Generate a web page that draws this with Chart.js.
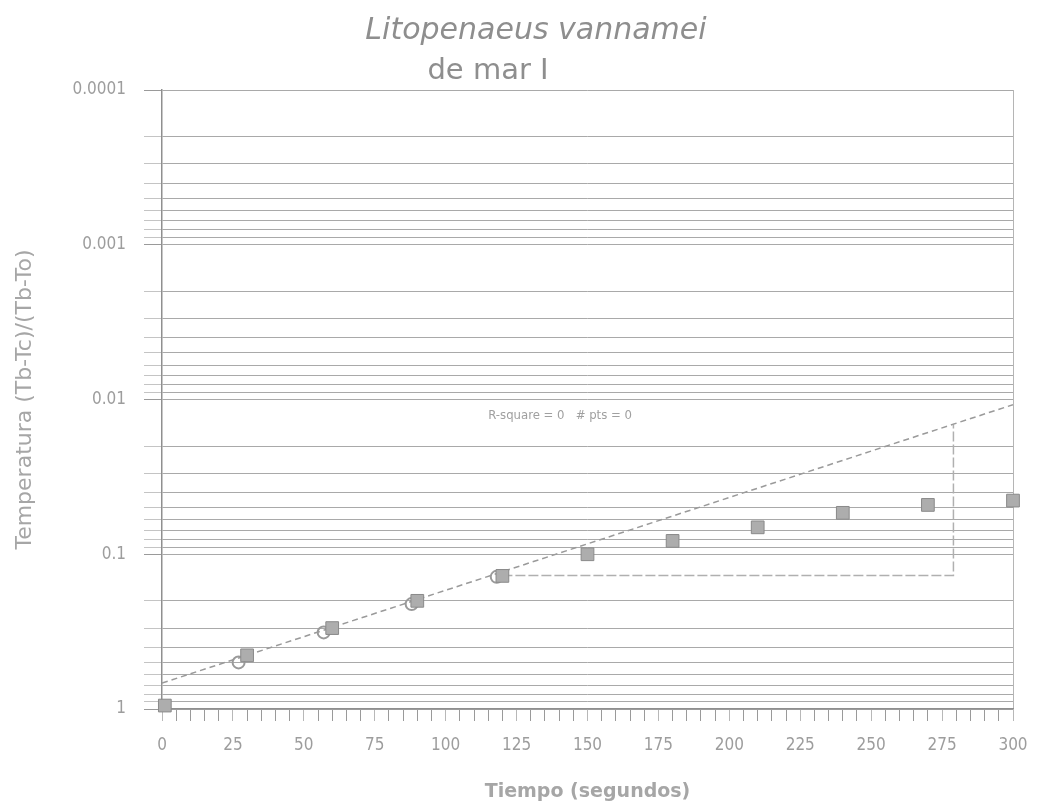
<!DOCTYPE html>
<html>
<head>
<meta charset="utf-8">
<script src="https://cdn.jsdelivr.net/npm/chart.js@4"></script>
<style>
  html, body { margin: 0; padding: 0; background: #fff; }
  #wrap { width: 1037px; height: 811px; position: relative; }
</style>
</head>
<body>
<div id="wrap"><canvas id="chart"></canvas></div>
<script>
// datos
var timeSec = [1, 30, 60, 90, 120, 150, 180, 210, 240, 270, 300];
var ratioMeasured = [0.95, 0.45, 0.30, 0.20, 0.138, 0.10, 0.082, 0.067, 0.054, 0.048, 0.045];
var timeSec2 = [27, 57, 88, 118];
var ratioMeasured2 = [0.50, 0.32, 0.21, 0.14];
var fitTime = [0, 300];
var fitRatio = [0.68, 0.0108];
var markTime = [120, 272, 279, 279];
var markRatio = [0.137, 0.137, 0.137, 0.0146];

// ejes
var yDecades = [0.0001, 0.001, 0.01, 0.1, 1];
var yMinorSteps = [1, 2, 3, 4, 5, 6, 7, 8, 9];
var xLabelStep = 25;

var titleLine1 = "Litopenaeus vannamei";
var titleLine2 = "de mar I";
var rsqText = "R-square = 0   # pts = 0";
var rsqAt = {x: 115, y: 0.0128};

var yTickValues = [];
yDecades.forEach(function (d, i) {
    if (i === yDecades.length - 1) { yTickValues.push(d); return; }
    yMinorSteps.forEach(function (m) { yTickValues.push(m * d); });
});

function pts(xs, ys) {
    return xs.map(function (x, i) { return {x: x, y: ys[i]}; });
}

var gray = '#a9a9a9';
var textGray = '#9d9d9d';
var narrow = "'Liberation Sans Narrow', 'DejaVu Sans Condensed', sans-serif";

var headings = {
    id: 'headings',
    afterDraw: function (chart) {
        var ctx = chart.ctx;
        ctx.save();
        ctx.fillStyle = '#8e8e8e';
        ctx.textAlign = 'center';
        ctx.textBaseline = 'alphabetic';
        ctx.font = "italic 30px 'DejaVu Sans', sans-serif";
        ctx.fillText(titleLine1, 536, 39);
        ctx.font = "29px 'DejaVu Sans', sans-serif";
        ctx.fillText(titleLine2, 488, 79);
        // texto de la regresion
        var xs = chart.scales.x, ys = chart.scales.y;
        ctx.font = "13px " + narrow;
        ctx.fillStyle = '#a0a0a0';
        ctx.textAlign = 'left';
        ctx.textBaseline = 'middle';
        ctx.fillText(rsqText, xs.getPixelForValue(rsqAt.x), ys.getPixelForValue(rsqAt.y));
        ctx.restore();
    }
};

new Chart(document.getElementById('chart'), {
    type: 'scatter',
    data: {
        datasets: [
            {
                label: 'medido',
                data: pts(timeSec, ratioMeasured),
                pointStyle: 'rect',
                pointRadius: 9,
                backgroundColor: '#adadad',
                borderColor: '#8a8a8a',
                borderWidth: 1,
                clip: false
            },
            {
                label: 'medido 2',
                data: pts(timeSec2, ratioMeasured2),
                pointStyle: 'circle',
                pointRadius: 6,
                backgroundColor: 'rgba(255,255,255,0)',
                borderColor: '#9a9a9a',
                borderWidth: 2
            },
            {
                label: 'ajuste',
                data: pts(fitTime, fitRatio),
                showLine: true,
                pointRadius: 0,
                borderColor: '#9a9a9a',
                borderWidth: 1.5,
                borderDash: [6, 4]
            },
            {
                label: 'marca',
                data: pts(markTime, markRatio),
                showLine: true,
                pointRadius: 0,
                borderColor: '#b0b0b0',
                borderWidth: 1.5,
                borderDash: [10, 3]
            }
        ]
    },
    options: {
        responsive: true,
        maintainAspectRatio: false,
        animation: false,
        layout: { padding: { top: 90, right: 24, left: 0, bottom: 0 } },
        plugins: {
            legend: { display: false },
            tooltip: { enabled: false }
        },
        scales: {
            x: {
                type: 'linear',
                min: 0,
                max: 300,
                border: { display: true, color: '#8f8f8f', width: 1.5 },
                grid: {
                    drawOnChartArea: true,
                    color: function (c) { return c.tick && c.tick.value === 300 ? '#b5b5b5' : 'rgba(0,0,0,0)'; },
                    tickColor: function (c) { return c.tick && c.tick.value % xLabelStep === 0 ? '#b8b8b8' : '#9a9a9a'; },
                    tickLength: 12
                },
                ticks: {
                    stepSize: 5,
                    autoSkip: false,
                    maxRotation: 0,
                    padding: 14,
                    color: textGray,
                    font: { family: narrow, size: 17 },
                    callback: function (v) { return v % xLabelStep === 0 ? String(v) : ''; }
                },
                title: {
                    display: true,
                    text: 'Tiempo (segundos)',
                    color: '#a6a6a6',
                    font: { family: "'DejaVu Sans', sans-serif", size: 19, weight: 'bold' },
                    padding: { top: 0, bottom: 8 }
                },
                afterFit: function (s) { s.height = 102; s.paddingRight = 0; }
            },
            y: {
                type: 'logarithmic',
                min: 0.0001,
                max: 1,
                reverse: true,
                border: { display: true, color: '#8f8f8f', width: 1.5 },
                grid: {
                    color: gray,
                    lineWidth: 1,
                    tickColor: function (c) { return c.tick && yDecades.indexOf(c.tick.value) >= 0 ? '#9a9a9a' : '#c4c4c4'; },
                    tickLength: 18
                },
                afterBuildTicks: function (s) {
                    s.ticks = yTickValues.map(function (v) { return {value: v}; });
                },
                ticks: {
                    autoSkip: false,
                    padding: 18,
                    color: textGray,
                    font: { family: narrow, size: 17 },
                    callback: function (v) {
                        for (var i = 0; i < yDecades.length; i++) {
                            if (Math.abs(v - yDecades[i]) < yDecades[i] * 1e-6) return String(yDecades[i]);
                        }
                        return '';
                    }
                },
                title: {
                    display: true,
                    text: 'Temperatura (Tb-Tc)/(Tb-To)',
                    color: '#a6a6a6',
                    font: { family: "'DejaVu Sans', sans-serif", size: 22 },
                    padding: { top: 12, bottom: 0 }
                },
                afterFit: function (s) { s.width = 162; }
            }
        }
    },
    plugins: [headings]
});
</script>
</body>
</html>
